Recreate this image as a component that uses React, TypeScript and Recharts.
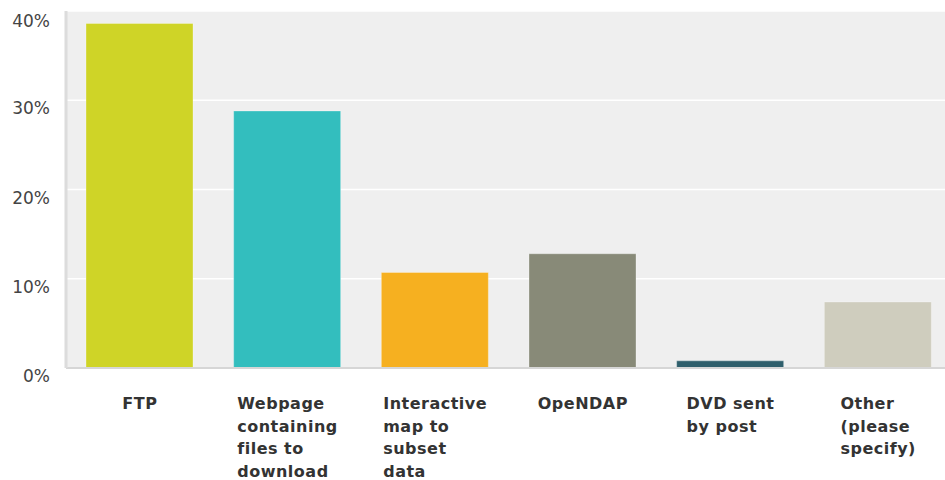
import { BarChart, Bar, XAxis, YAxis, CartesianGrid, Cell } from 'recharts';

const categories = [
  'FTP',
  'Webpage\ncontaining\nfiles to\ndownload',
  'Interactive\nmap to\nsubset\ndata',
  'OpeNDAP',
  'DVD sent\nby post',
  'Other\n(please\nspecify)',
];
const shares = [38.6, 28.8, 10.7, 12.8, 0.8, 7.4];
const barColors = ['#cfd427', '#33bebe', '#f6b020', '#888a78', '#2f5f6c', '#cfcdbe'];
const yTicks = [0, 10, 20, 30, 40];

const data = categories.map((name, i) => ({ name, value: shares[i] }));

const LABEL_FONT = 'bold 16px "DejaVu Sans"';
const LETTER_SPACING = 0.5;

// width of the widest line so the block can be centred under the bar
function blockWidth(lines: string[]) {
  const ctx = document.createElement('canvas').getContext('2d');
  if (!ctx) return 0;
  ctx.font = LABEL_FONT;
  return Math.max(...lines.map(l => ctx.measureText(l).width + LETTER_SPACING * l.length));
}

const CategoryTick = (props: any) => {
  const { x, y, payload } = props;
  const lines = String(payload.value).split('\n');
  const w = blockWidth(lines);
  return (
    <g transform={`translate(${x - w / 2},${y})`}>
      {lines.map((line, i) => (
        <text
          key={i}
          x={0}
          y={33 + i * 22.7}
          fill="#333"
          style={{ font: LABEL_FONT, letterSpacing: LETTER_SPACING }}
        >
          {line}
        </text>
      ))}
    </g>
  );
};

const PercentTick = (props: any) => {
  const { x, y, payload, index } = props;
  const extra = index === yTicks.length - 1 ? 2 : 0;
  return (
    <text
      x={x - 8}
      y={y + 8 + extra}
      textAnchor="end"
      dominantBaseline="central"
      fill="#444"
      fontFamily="DejaVu Sans"
      fontSize={17}
    >
      {`${payload.value}%`}
    </text>
  );
};

export default function App() {
  return (
    <div style={{ position: 'fixed', left: 0, top: 0, width: 945, height: 480, overflow: 'hidden', background: '#fff' }}>
      <BarChart
        width={952}
        height={480}
        data={data}
        margin={{ top: 11, right: 0, bottom: 0, left: 0 }}
        barSize={107}
      >
        <CartesianGrid vertical={false} stroke="#ffffff" strokeWidth={1.5} fill="#efefef" />
        <XAxis
          dataKey="name"
          height={112}
          interval={0}
          tickLine={false}
          axisLine={{ stroke: '#d6d6d6', strokeWidth: 2 }}
          tick={<CategoryTick />}
        />
        <YAxis
          width={66}
          domain={[0, 40]}
          ticks={yTicks}
          tickLine={false}
          axisLine={{ stroke: '#dcdcdc', strokeWidth: 3 }}
          tick={<PercentTick />}
        />
        <Bar dataKey="value" isAnimationActive={false} stroke="rgba(255,255,255,0.3)" strokeWidth={1}>
          {data.map((d, i) => (
            <Cell key={d.name} fill={barColors[i]} />
          ))}
        </Bar>
      </BarChart>
    </div>
  );
}
